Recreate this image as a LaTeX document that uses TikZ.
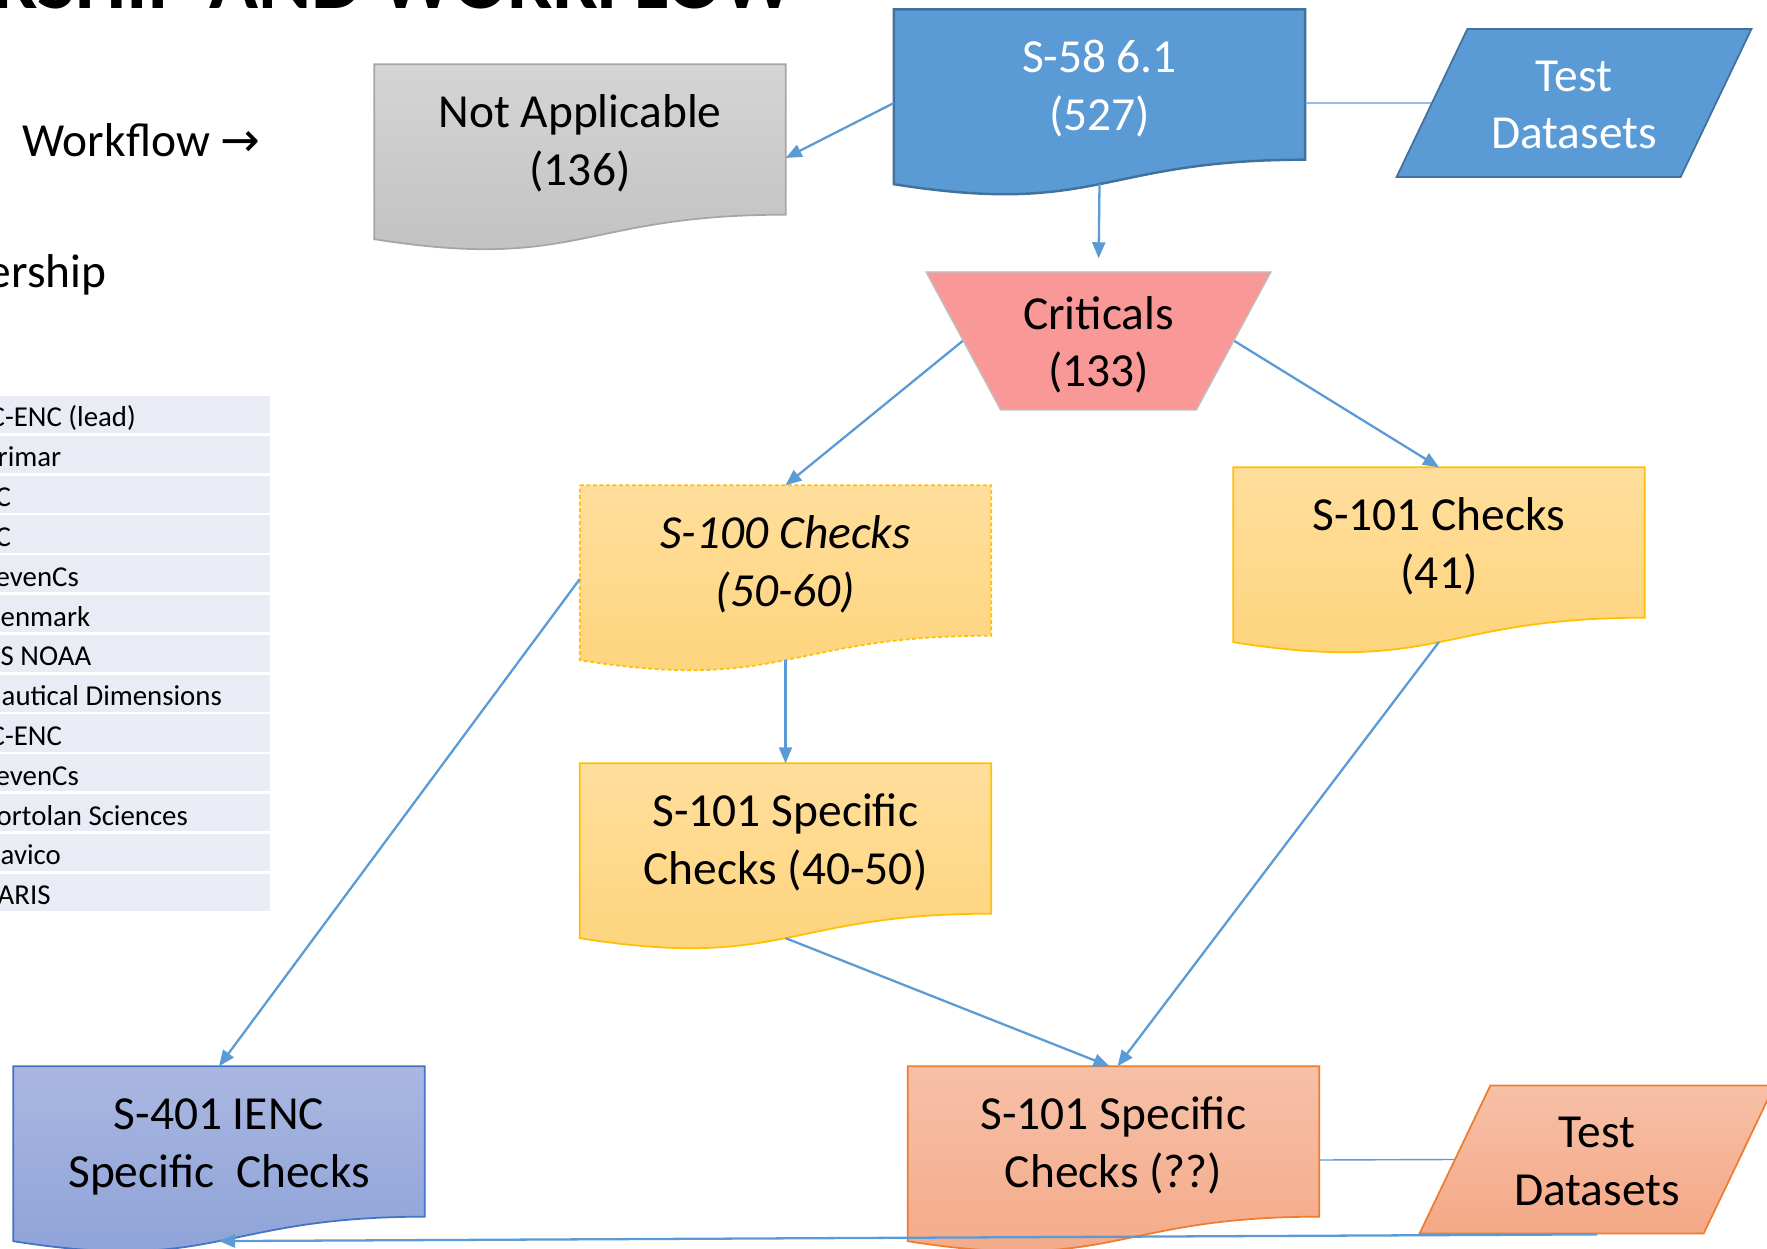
\documentclass[tikz,border=0pt]{standalone}
\usepackage{fontspec}
\setmainfont{Carlito}
\newfontfamily\arrowfont{DejaVu Sans}
\usepackage{xcolor}
\definecolor{flowblue}{RGB}{91,155,213}
\definecolor{flowblueline}{RGB}{65,113,156}
\definecolor{critpink}{RGB}{249,153,151}
\definecolor{goldtop}{RGB}{255,222,156}
\definecolor{goldbot}{RGB}{254,211,122}
\definecolor{goldline}{RGB}{255,192,0}
\definecolor{greytop}{RGB}{213,213,213}
\definecolor{greybot}{RGB}{192,192,192}
\definecolor{ienctop}{RGB}{170,183,225}
\definecolor{iencbot}{RGB}{139,161,215}
\definecolor{iencline}{RGB}{68,114,196}
\definecolor{salmtop}{RGB}{247,192,167}
\definecolor{salmbot}{RGB}{244,168,134}
\definecolor{salmline}{RGB}{237,125,49}
\definecolor{rowfill}{RGB}{233,235,245}
\usepackage{tikz}
\usetikzlibrary{shapes.geometric, arrows.meta, calc, backgrounds}

\newcommand{\boxfont}{\fontsize{13.5}{16.3}\selectfont}
\newcommand{\listfont}{\fontsize{8.2}{9.8}\selectfont}
\newcommand{\titlefont}{\fontsize{23}{26}\selectfont\bfseries}
% fixed line height / depth so every box centres its two lines alike
\newcommand{\linetop}{\rule{0pt}{13.5pt}}
\newcommand{\linebot}{\rule[-3.78pt]{0pt}{3.78pt}}

% wavy document outline behind a node
\newcommand{\docshape}[2]{%
  \begin{scope}[on background layer]
    \path[#2] (#1.north west) -- (#1.north east) -- (#1.south east)
      .. controls (#1.south) and ($(#1.south)+(0,57)$) .. ($(#1.south west)+(0,24.5)$) -- cycle;
  \end{scope}}

\begin{document}
\begin{tikzpicture}[
  x=0.1mm, y=-0.1mm,
  doc/.style={rectangle, minimum width=41mm, minimum height=14.9mm, inner sep=0pt,
              align=center, font=\boxfont},
  datain/.style={trapezium, trapezium left angle=65, trapezium right angle=115,
                 trapezium stretches=true, minimum width=35.6mm, minimum height=14.8mm,
                 inner sep=0pt, align=center, font=\boxfont, line width=0.5pt},
  flow/.style={-{Triangle[length=1.6mm,width=1.3mm]}, flowblue, line width=0.65pt},
  tie/.style={flowblue, line width=0.4pt},
]
\useasboundingbox (0,0) rectangle (1767,1249);

% Title and side texts
\node[anchor=base east, font=\titlefont, inner sep=0pt] (title) at (795,9) {RSHIP AND WORKFLOW};
\node[anchor=base west, font=\boxfont, inner sep=0pt] (wf) at (22,157) {Workflow {\arrowfont →}};
\node[anchor=base east, font=\boxfont, inner sep=0pt] (member) at (107,288) {ership};

% Member list
\foreach \org/\dx [count=\i from 0] in {C-ENC (lead)/-11, rimar/-3, C/-5, C/-5, evenCs/-5,
    enmark/0, S NOAA/0, autical Dimensions/1, C-ENC/-11, evenCs/-5,
    ortolan Sciences/-4, avico/0, ARIS/-3} {
  \fill[rowfill] (-10,396+\i*39.8) rectangle (270,433.2+\i*39.8);
  \node[anchor=base west, font=\listfont, inner sep=0pt] (org\i) at (\dx,427+\i*39.8) {\org};
}

% Nodes
\node[doc, text=white] (s58) at (1099.5,84.5) {\linetop S-58 6.1\\(527)\linebot};
\docshape{s58}{fill=flowblue, draw=flowblueline, line width=0.7pt}
\node[doc] (notapp) at (580,139.5) {\linetop Not Applicable\\(136)\linebot};
\docshape{notapp}{top color=greytop, bottom color=greybot, draw=black!35, line width=0.5pt}
\node[datain, fill=flowblue, draw=flowblueline, text=white] (test1) at (1574,103) {\linetop Test\\Datasets\linebot};
\node[trapezium, trapezium left angle=64, trapezium right angle=64, shape border rotate=180,
      trapezium stretches=true, minimum width=34.5mm, minimum height=13.8mm, inner sep=0pt,
      fill=critpink, draw=black!25, align=center, font=\boxfont] (crit) at (1098.5,341) {\linetop Criticals\\(133)\linebot};
\node[doc, font=\boxfont\itshape] (s100) at (785.5,560.5) {\linetop S-100 Checks\\(50-60)\linebot};
\docshape{s100}{top color=goldtop, bottom color=goldbot, draw=goldline, line width=0.5pt,
               dash pattern=on 0.4mm off 0.25mm}
\node[doc] (s101) at (1439,542.5) {\linetop S-101 Checks\\(41)\linebot};
\docshape{s101}{top color=goldtop, bottom color=goldbot, draw=goldline, line width=0.5pt}
\node[doc] (s101spec) at (785.5,838.5) {\linetop S-101 Specific\\Checks (40-50)\linebot};
\docshape{s101spec}{top color=goldtop, bottom color=goldbot, draw=goldline, line width=0.5pt}
\node[doc] (s401) at (219,1141.5) {\linetop S-401 IENC\\Specific\ \ Checks\linebot};
\docshape{s401}{top color=ienctop, bottom color=iencbot, draw=iencline, line width=0.5pt}
\node[doc] (s101q) at (1113.5,1141.5) {\linetop S-101 Specific\\Checks (??)\linebot};
\docshape{s101q}{top color=salmtop, bottom color=salmbot, draw=salmline, line width=0.5pt}
\node[datain, top color=salmtop, bottom color=salmbot, draw=salmline] (test2) at (1597,1159.5) {\linetop Test\\Datasets\linebot};

% Edges
\draw[tie] ($(s58.east)+(0,18.5)$) -- (test1.180);
\draw[tie] ($(s101q.east)+(0,18.5)$) -- (test2.180);
\draw[flow] ($(s58.west)+(0,18.5)$) -- ($(notapp.east)+(0,18.5)$);
\draw[flow, shorten >=1.3mm] ($(s58.south)+(0,24.4)$) -- (crit.90);
\draw[flow] (crit.180) -- (s100.north);
\draw[flow] (crit.0) -- (s101.north);
\draw[flow] ($(s100.south)+(0,24.2)$) -- (s101spec.north);
\draw[flow] ($(s100.west)+(0,18.5)$) -- (s401.north);
\draw[flow] ($(s101spec.south)+(0,24.4)$) -- ($(s101q.north)+(-4,0)$);
\draw[flow] ($(s101.south)+(0,24.2)$) -- ($(s101q.north)+(4,0)$);
\draw[flow] (test2.270) -- ($(s401.south)+(0,24.4)$);

\end{tikzpicture}
\end{document}
